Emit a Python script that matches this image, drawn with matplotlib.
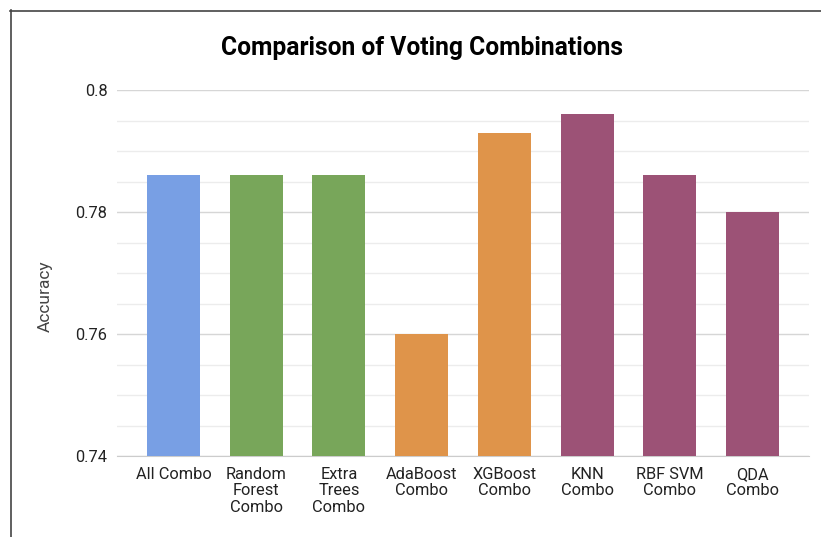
import matplotlib
matplotlib.use("Agg")
import matplotlib.pyplot as plt
from matplotlib.lines import Line2D
from matplotlib.ticker import MultipleLocator

categories = ["All Combo", "Random\nForest\nCombo", "Extra\nTrees\nCombo", "AdaBoost\nCombo",
              "XGBoost\nCombo", "KNN\nCombo", "RBF SVM\nCombo", "QDA\nCombo"]
accuracy = [0.786, 0.786, 0.786, 0.760, 0.793, 0.796, 0.786, 0.780]
bar_colors = ["#789fe4", "#78a65a", "#78a65a", "#df944a",
              "#df944a", "#9c5276", "#9c5276", "#9c5276"]

plt.rcParams["font.family"] = ["Roboto", "DejaVu Sans"]

fig = plt.figure(figsize=(8.21, 5.37), dpi=100)
ax = fig.add_axes([0.1425, 0.1508, 0.8429, 0.6816])

x = range(len(categories))
ax.bar(x, accuracy, width=0.64, color=bar_colors, zorder=3)

ax.set_ylim(0.74, 0.80)
ax.set_xlim(-0.683, len(categories) - 1 + 0.683)
ax.yaxis.set_major_locator(MultipleLocator(0.02))
ax.yaxis.set_minor_locator(MultipleLocator(0.005))
ax.set_yticks([0.74, 0.76, 0.78, 0.80], ["0.74", "0.76", "0.78", "0.8"])
ax.grid(axis="y", which="major", color="#d6d6d6", lw=1.0, zorder=0)
ax.grid(axis="y", which="minor", color="#ececec", lw=1.0, zorder=0)
ax.tick_params(axis="y", which="both", length=0, pad=7, labelsize=11.8, labelcolor="#222222")
ax.set_xticks(list(x), categories)
ax.tick_params(axis="x", length=0, pad=8, labelsize=11.8, labelcolor="#222222")
for lbl in ax.get_xticklabels():
    lbl.set_linespacing(1.1)
for side in ["top", "right", "left"]:
    ax.spines[side].set_visible(False)
ax.spines["bottom"].set_color("#cccccc")

fig.text(422 / 821, 1 - 48 / 537, "Comparison of Voting Combinations", ha="center",
         va="center", fontsize=17.7, fontweight="bold", color="#000000")
fig.text(45 / 821, 1 - 296 / 537, "Accuracy", rotation=90, ha="center", va="center",
         fontsize=12.5, color="#444444")

# screenshot frame on the left and top edges
fig.add_artist(Line2D([10.5 / 821, 10.5 / 821], [0, 1 - 10 / 537], transform=fig.transFigure,
                      color="#444444", lw=1.2))
fig.add_artist(Line2D([10 / 821, 1], [1 - 10.5 / 537, 1 - 10.5 / 537], transform=fig.transFigure,
                      color="#444444", lw=1.2))

fig.savefig("out.png", dpi=100)
